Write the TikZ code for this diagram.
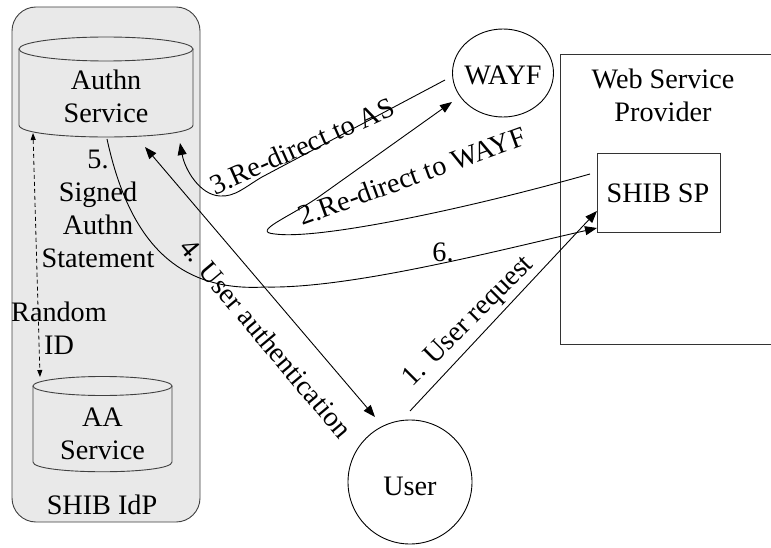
\documentclass[tikz,border=0pt]{standalone}
\usepackage{fontspec}
\setmainfont{Liberation Serif}
\usetikzlibrary{arrows.meta,shapes.geometric}
\definecolor{idpgray}{RGB}{233,233,233}
\begin{document}
\begin{tikzpicture}[x=1pt,y=-1pt,
  txt/.style={font=\fontsize{28.2}{33}\selectfont, inner sep=0pt, align=center},
  conn/.style={line width=0.9pt, draw=black},
  arr/.style={conn, -{Triangle[length=12pt,width=9pt]}},
  darr/.style={conn, {Triangle[length=12pt,width=9pt]}-{Triangle[length=12pt,width=9pt]}},
  dasharr/.style={line width=0.8pt, draw=black, dash pattern=on 4pt off 3pt, {Triangle[length=7pt,width=5pt]}-{Triangle[length=7pt,width=5pt]}},
  outline/.style={line width=0.9pt, draw=black!75},
  boxline/.style={line width=0.9pt, draw=black!80},
]
\useasboundingbox (0,0) rectangle (771,548);
\clip (0,0) rectangle (771,548);

% SHIB IdP container
\draw[outline, fill=idpgray, rounded corners=24pt] (12,7) rectangle (200,522);

% Authn Service cylinder
\draw[outline] (106,49) ellipse [x radius=87, y radius=12];
\draw[outline] (19,49) -- (19,125) .. controls (19,141) and (193,141) .. (193,125) -- (193,49);
\node[txt] (authn) at (106,96) {Authn\\Service};

% AA Service cylinder
\draw[outline] (102.5,386) ellipse [x radius=69.5, y radius=9.5];
\draw[outline] (33,386) -- (33,462) .. controls (33,475) and (172,475) .. (172,462) -- (172,386);
\node[txt] (aa) at (102.5,433.5) {AA\\Service};

\node[txt] (idplabel) at (102,505) {SHIB IdP};
\node[txt] (stmt) at (98,209) {5.\\Signed\\Authn\\Statement};
\node[txt] (rid) at (59,328.5) {Random\\ID};

% Web Service Provider
\draw[boxline] (560,54) rectangle (800,344);
\node[txt] (wsp) at (663,95.5) {Web Service\\Provider};
\node[boxline, rectangle, minimum width=123pt, minimum height=79pt, inner sep=0pt] (sp) at (658.5,192.5) {};
\node[txt] (sptxt) at (658,193) {SHIB SP};

% WAYF
\node[draw, line width=0.9pt, ellipse, minimum width=101pt, minimum height=88pt, inner sep=0pt] (wayf) at (503,73) {};
\node[txt] (wayftxt) at (503,75) {WAYF};

% User
\node[draw, line width=0.9pt, circle, minimum size=124pt, inner sep=0pt] (user) at (410,482) {};
\node[txt] (usertxt) at (410,486) {User};

% connector end points
\coordinate (authnA) at (180,143);
\coordinate (authnB) at (145,147);
\coordinate (authnC) at (107,139);
\coordinate (authnD) at (33,133);
\coordinate (aaTop) at (40,377);
\coordinate (wayfOut) at (445,80);
\coordinate (wayfIn) at (452,102);
\coordinate (spOut) at (590,174);
\coordinate (spIn1) at (597,211);
\coordinate (spIn2) at (597,228);
\coordinate (userOut) at (410,411);
\coordinate (userIn) at (375,417);

% 1. User request
\draw[arr] (userOut) -- (spIn1);
\node[txt, rotate=45] (l1) at (469,322) {1. User request};

% 2. Re-direct to WAYF
\draw[arr] (spOut) .. controls (470,208) and (320,240) .. (275,234)
  .. controls (250,232) and (290,217) .. (320,196) -- (wayfIn);
\node[txt, rotate=20] (l2) at (412,176) {2.Re-direct to WAYF};

% 3. Re-direct to AS
\draw[arr] (wayfOut) -- (262,177) .. controls (245,187) and (235,197) .. (220,196)
  .. controls (200,195) and (185,170) .. (authnA);
\node[txt, rotate=24] (l3) at (302,146) {3.Re-direct to AS};

% 4. User authentication
\draw[darr] (authnB) -- (userIn);
\node[txt, rotate=-50] (l4) at (266,338) {4. User authentication};

% 5/6. Signed statement to SP
\draw[arr] (authnC) .. controls (130,245) and (180,292) .. (265,287)
  .. controls (350,289) and (500,250) .. (spIn2);
\node[txt] (l6) at (443,252) {6.};

% Random ID
\draw[dasharr] (authnD) -- (aaTop);
\end{tikzpicture}
\end{document}
